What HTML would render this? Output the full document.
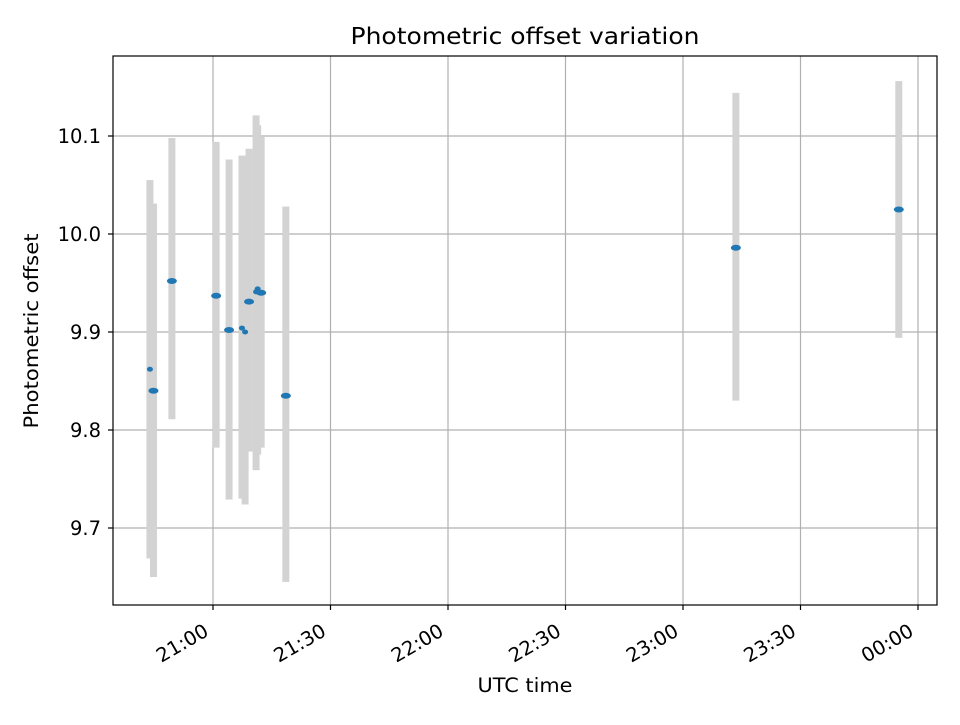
<!DOCTYPE html>
<html><head><meta charset="utf-8"><style>
body{margin:0;background:#fff}
svg{font-family:"DejaVu Sans","Liberation Sans",sans-serif}
</style></head><body>
<svg id="chart" width="960" height="720" xmlns="http://www.w3.org/2000/svg">
<rect width="960" height="720" fill="#fff"/>
<g id="grid"></g>
<g id="bars"></g>
<g id="points"></g>
<rect x="113" y="56" width="824" height="549" fill="none" stroke="#000" stroke-width="1.2"/>
<g id="ticks" font-size="19.5" fill="#000"></g>
<text x="525" y="44" font-size="23" text-anchor="middle" textLength="349" lengthAdjust="spacingAndGlyphs">Photometric offset variation</text>
<text x="525" y="692" font-size="19.5" text-anchor="middle" textLength="95" lengthAdjust="spacingAndGlyphs">UTC time</text>
<text transform="translate(38,331) rotate(-90)" font-size="19.5" text-anchor="middle" textLength="195" lengthAdjust="spacingAndGlyphs">Photometric offset</text>
</svg>
<script>
// minutes relative to 21:00 UTC
const times = [-16.1,-15.2,-10.5,0.8,4.1,7.4,8.2,9.2,11.0,11.4,12.3,18.6,133.5,175.1];
const values = [9.862,9.840,9.952,9.937,9.902,9.904,9.900,9.931,9.941,9.944,9.940,9.835,9.986,10.025];
const errHigh = [10.055,10.031,10.098,10.094,10.076,10.080,10.078,10.087,10.121,10.111,10.099,10.028,10.144,10.156];
const errLow = [9.669,9.650,9.811,9.782,9.729,9.730,9.724,9.778,9.759,9.775,9.782,9.645,9.830,9.894];
const markerSmall = [1,0,0,0,0,1,1,0,1,1,0,0,0,0];
const yTicks = [9.7,9.8,9.9,10.0,10.1];
const xTickMinutes = [0,30,60,90,120,150,180];
const xTickLabels = ["21:00","21:30","22:00","22:30","23:00","23:30","00:00"];

const NS="http://www.w3.org/2000/svg";
const X=m=>213+m*(705/180);
const Y=v=>234-(v-10.0)*980;
function mk(tag,attrs,parent){const e=document.createElementNS(NS,tag);for(const k in attrs)e.setAttribute(k,attrs[k]);parent.appendChild(e);return e;}
const grid=document.getElementById('grid'),bars=document.getElementById('bars'),pts=document.getElementById('points'),ticks=document.getElementById('ticks');
yTicks.forEach(v=>{
  const y=Y(v);
  const g=mk('line',{x1:113,x2:937,y1:y,y2:y,stroke:'#b0b0b0','stroke-width':1.2},grid);
  
  
  const t=mk('line',{x1:108,x2:113,y1:y,y2:y,stroke:'#000','stroke-width':1.2},ticks);
  
  
  const l=mk('text',{x:101,y:y+7,'text-anchor':'end'},ticks);
  l.textContent=v.toFixed(1);
  
  
});
xTickMinutes.forEach((m,i)=>{
  const x=X(m);
  const g=mk('line',{x1:x,x2:x,y1:56,y2:605,stroke:'#b0b0b0','stroke-width':1.2},grid);
  
  
  const t=mk('line',{x1:x,x2:x,y1:605,y2:610,stroke:'#000','stroke-width':1.2},ticks);
  
  
  const l=mk('text',{transform:`translate(${x-10.5},622) rotate(-30)`,'text-anchor':'end',dy:'0.76em'},ticks);
  l.textContent=xTickLabels[i];
  
  
});
times.forEach((m,i)=>{
  const x=X(m);
  const b=mk('rect',{x:x-3.5,y:Y(errHigh[i]),width:7,height:Y(errLow[i])-Y(errHigh[i]),fill:'#d3d3d3'},bars);
  
  
  const s=markerSmall[i];
  const p=mk('ellipse',{cx:x,cy:Y(values[i]),rx:s?3:5,ry:s?2.5:3,fill:'#1f77b4'},pts);
  
  
});
</script>
</body></html>
